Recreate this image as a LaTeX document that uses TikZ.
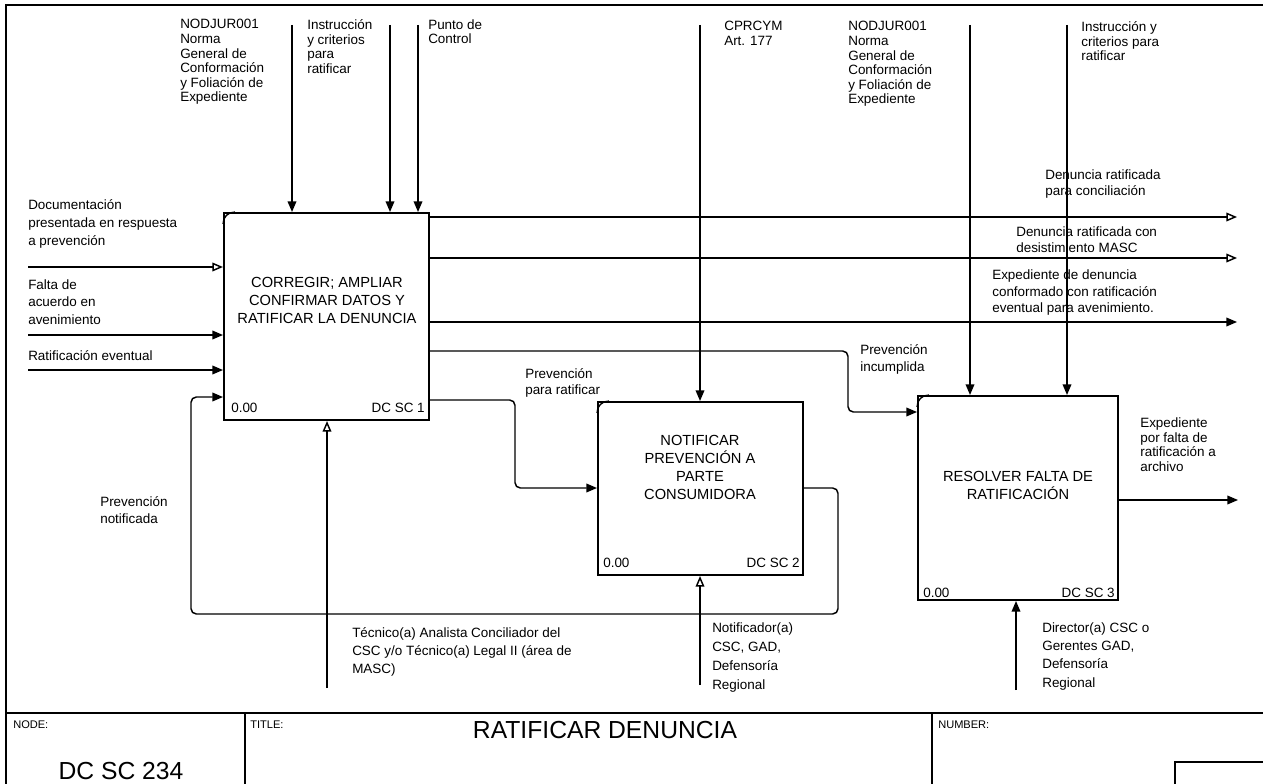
\documentclass[tikz,border=0pt]{standalone}
\usepackage{fontspec}
\setmainfont{Liberation Sans}
\usetikzlibrary{arrows.meta,calc}
% fixed height for the first line of every label
\newcommand\firstline[1]{\rule{0pt}{#1}}

\begin{document}
\begin{tikzpicture}[x=0.75pt,y=-0.75pt,
  lbl/.style={anchor=north west, inner sep=0pt, align=left,
    font=\fontsize{10.1}{#1}\selectfont,
    execute at begin node={\firstline{8pt}}},
  lbl/.default=13.5pt,
  act/.style={draw, line width=1.5pt, inner sep=0pt},
  acttext/.style={anchor=north, inner sep=0pt, align=center,
    font=\fontsize{11}{13.5}\selectfont,
    execute at begin node={\firstline{9pt}}},
  num/.style={inner sep=0pt, font=\fontsize{10.1}{12}\selectfont},
  link/.style={line width=1.1pt},
  arr/.style={link, -{Triangle[length=8pt,width=6.5pt]}},
  oarr/.style={link, -{Triangle[open,length=8pt,width=6.5pt]}},
  elbow/.style={rounded corners=4pt},
  corner/.style={line width=1pt},
  frame/.style={line width=1pt},
  hdr/.style={anchor=base west, inner sep=0pt, font=\fontsize{8.3}{10}\selectfont},
  big/.style={anchor=base, inner sep=0pt, font=\fontsize{18.5}{20}\selectfont}
]
\useasboundingbox (0,0) rectangle (1263,784);

% sheet frame and title block
\draw[frame] (6,784) -- (6,5) -- (1263,5);
\draw[line width=1.4pt] (6,713) -- (1263,713);
\draw[frame] (245,713) -- (245,784);
\draw[frame] (932,713) -- (932,784);
\draw[frame] (1175,784) -- (1175,762) -- (1263,762);
\node[hdr] (nodehdr) at (13,728) {NODE:};
\node[hdr] (titlehdr) at (250,728) {TITLE:};
\node[hdr] (numhdr) at (938,728) {NUMBER:};
\node[big] (nodeid) at (121,779) {DC SC 234};
\node[big] (title) at (605,738) {RATIFICAR DENUNCIA};

% activity boxes
\node[act, minimum width=153.75pt, minimum height=155.25pt] (b1) at (326.5,316.5) {};
\node[act, minimum width=153.75pt, minimum height=129.75pt] (b2) at (700.5,488.5) {};
\node[act, minimum width=150pt, minimum height=153pt] (b3) at (1018,498) {};

% small rounded mark in the upper left corner of each box
\foreach \b in {b1,b2,b3}{
  \draw[corner] ($(\b.north west)+(0,12)$) .. controls ($(\b.north west)+(0,5)$) and ($(\b.north west)+(5,0)$) .. ($(\b.north west)+(12,0)$);
}

\node[acttext] (b1t) at (327,277) {CORREGIR; AMPLIAR\\CONFIRMAR DATOS Y\\RATIFICAR LA DENUNCIA};
\node[acttext] (b2t) at (700,435) {NOTIFICAR\\PREVENCIÓN A\\PARTE\\CONSUMIDORA};
\node[acttext] (b3t) at (1018,471) {RESOLVER FALTA DE\\RATIFICACIÓN};

\node[num, anchor=base west] (b1n) at (231,412) {0.00};
\node[num, anchor=base east] (b1c) at (425,412) {DC SC 1};
\node[num, anchor=base west] (b2n) at (603,567) {0.00};
\node[num, anchor=base east] (b2c) at (800,567) {DC SC 2};
\node[num, anchor=base west] (b3n) at (923,597) {0.00};
\node[num, anchor=base east] (b3c) at (1115,597) {DC SC 3};

% controls
\coordinate (c1a) at (292,25);
\coordinate (c1b) at (390,25);
\coordinate (c1c) at (418,25);
\coordinate (c2) at (700,25);
\coordinate (c3a) at (970,25);
\coordinate (c3b) at (1067,25);
\draw[arr] (c1a) -- (c1a |- b1.north);
\draw[arr] (c1b) -- (c1b |- b1.north);
\draw[arr] (c1c) -- (c1c |- b1.north);
\draw[arr] (c2) -- (c2 |- b2.north);
\draw[arr] (c3a) -- (c3a |- b3.north);
\draw[arr] (c3b) -- (c3b |- b3.north);

\node[lbl=10.95pt] (lc1a) at (180,19.3) {NODJUR001\\Norma\\General de\\Conformación\\y Foliación de\\Expediente};
\node[lbl=10.95pt] (lc1b) at (307,19.3) {Instrucción\\y criterios\\para\\ratificar};
\node[lbl=10.95pt] (lc1c) at (428,19.3) {Punto de\\Control};
\node[lbl=10.95pt] (lc2) at (724,21.3) {CPRCYM\\Art. 177};
\node[lbl=10.95pt] (lc3a) at (848,21.3) {NODJUR001\\Norma\\General de\\Conformación\\y Foliación de\\Expediente};
\node[lbl=10.95pt] (lc3b) at (1081,21.3) {Instrucción y\\criterios para\\ratificar};

% inputs
\coordinate (i1) at (28,267);
\coordinate (i2) at (28,335);
\coordinate (i3) at (28,370);
\draw[oarr] (i1) -- (i1 -| b1.west);
\draw[arr] (i2) -- (i2 -| b1.west);
\draw[arr] (i3) -- (i3 -| b1.west);
\node[lbl=13.5pt] (li1) at (28,199.3) {Documentación\\presentada en respuesta\\a prevención};
\node[lbl=13.1pt] (li2) at (28,279.3) {Falta de\\acuerdo en\\avenimiento};
\node[lbl] (li3) at (28,349.3) {Ratificación eventual};

% outputs of the first activity
\coordinate (o1) at (1237,217);
\coordinate (o2) at (1237,258);
\coordinate (o3) at (1237,322);
\draw[oarr] (o1 -| b1.east) -- (o1);
\draw[oarr] (o2 -| b1.east) -- (o2);
\draw[arr] (o3 -| b1.east) -- (o3);
\node[lbl=12.4pt] (lo1) at (1045,169.3) {Denuncia ratificada\\para conciliación};
\node[lbl=12pt] (lo2) at (1016,226.3) {Denuncia ratificada con\\desistimiento MASC};
\node[lbl=12.6pt] (lo3) at (992,269.3) {Expediente de denuncia\\conformado con ratificación\\eventual para avenimiento.};

% unmet notice to the third activity
\coordinate (p4a) at (848,351);
\coordinate (p4b) at (848,412);
\draw[arr, elbow] (p4a -| b1.east) -- (p4a) -- (p4b) -- (p4b -| b3.west);
\node[lbl=12.75pt] (lo4) at (860,344.3) {Prevención\\incumplida};

% notice to the second activity
\coordinate (p5a) at (515,400);
\coordinate (p5b) at (515,488);
\draw[arr, elbow] (p5a -| b1.east) -- (p5a) -- (p5b) -- (p5b -| b2.west);
\node[lbl=12pt] (lo5) at (525,368.3) {Prevención\\para ratificar};

% feedback from the second activity
\coordinate (f1) at (838,488);
\coordinate (f2) at (838,614);
\coordinate (f3) at (191,614);
\coordinate (f4) at (191,397);
\draw[arr, elbow] (f1 -| b2.east) -- (f1) -- (f2) -- (f3) -- (f4) -- (f4 -| b1.west);
\node[lbl=12.75pt] (lfb) at (100,496.3) {Prevención\\notificada};

% output of the third activity
\coordinate (o6) at (1238,500);
\draw[arr] (o6 -| b3.east) -- (o6);
\node[lbl=11.1pt] (lo6) at (1140,417.3) {Expediente\\por falta de\\ratificación a\\archivo};

% mechanisms
\coordinate (m1) at (327,688);
\coordinate (m2) at (700,685);
\coordinate (m3) at (1016,690);
\draw[oarr] (m1) -- (m1 |- b1.south);
\draw[oarr] (m2) -- (m2 |- b2.south);
\draw[arr] (m3) -- (m3 |- b3.south);
\node[lbl=13.5pt] (lm1) at (352,627.3) {Técnico(a) Analista Conciliador del\\CSC y/o Técnico(a) Legal II (área de\\MASC)};
\node[lbl=14.25pt] (lm2) at (712,622.3) {Notificador(a)\\CSC, GAD,\\Defensoría\\Regional};
\node[lbl=13.7pt] (lm3) at (1042,622.3) {Director(a) CSC o\\Gerentes GAD,\\Defensoría\\Regional};
\end{tikzpicture}
\end{document}
